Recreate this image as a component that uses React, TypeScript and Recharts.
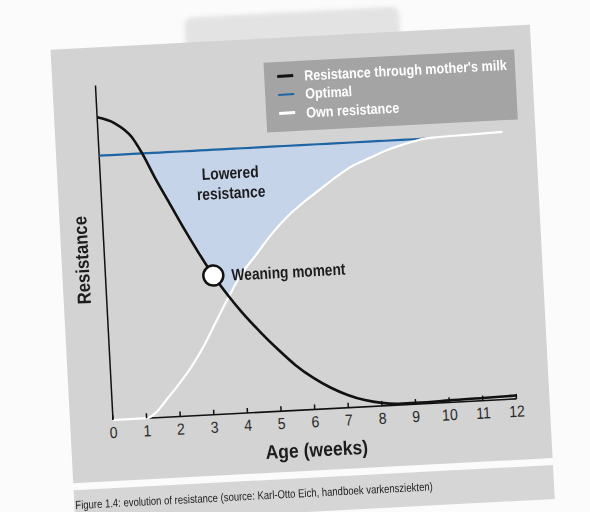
import { Area, ComposedChart, Line, ReferenceDot, ReferenceLine, XAxis, YAxis } from "recharts";

// values (resistance on a 0-100 scale)
const weeks = [0, 0.5, 1, 1.28, 1.6, 2, 2.4, 2.8, 3.2, 3.63, 4, 4.5, 5, 5.5, 6, 6.5, 7, 7.5, 8, 8.5, 9, 9.7, 10, 11, 12];
const mothersMilk = [90.5, 88.5, 84, 79, 72, 64, 56, 48.5, 41.5, 35, 30, 24, 18.5, 13.5, 9.5, 6.3, 3.8, 2, 0.9, 0.4, 0.4, 0.5, 0.6, 0.8, 1];
const ownResistance = [0, 0, 0, 1.5, 5, 9.5, 14.5, 20.5, 27.5, 35, 41, 47, 53, 58, 62, 65.5, 69, 72, 74, 76, 77.5, 79, 79.2, 79.5, 79.8];
const optimal = [79, 79, 79, 79, 79, 79, 79, 79, 79, 79, 79, 79, 79, 79, 79, 79, 79, 79, 79, 79, 79, 79, null, null, null];
const weekTicks = [0, 1, 2, 3, 4, 5, 6, 7, 8, 9, 10, 11, 12];
const weaningWeek = 3.2;
const weaningLevel = 41.5;
const gapStart = 1.28;
const gapEnd = 9.7;

const legendItems = [
  { label: "Resistance through mother's milk", color: "#111111" },
  { label: "Optimal", color: "#1f64a3" },
  { label: "Own resistance", color: "#ffffff" },
];

const data = weeks.map((week, i) => ({
  week,
  milk: mothersMilk[i],
  own: ownResistance[i],
  optimal: optimal[i],
  band:
    week >= gapStart && week <= gapEnd
      ? [Math.max(mothersMilk[i], ownResistance[i]), 79]
      : null,
}));

const font = '"Liberation Sans", Arial, Helvetica, sans-serif';

// the figure uses a condensed grotesque, so squeeze Arial-metric text a bit
function Squeeze({ k, origin = "left", children }: { k: number; origin?: string; children: React.ReactNode }) {
  return (
    <span style={{ display: "inline-block", transform: `scaleX(${k})`, transformOrigin: origin, whiteSpace: "nowrap" }}>
      {children}
    </span>
  );
}

function WeekTick({ x, y, payload }: { x?: number; y?: number; payload?: { value: number } }) {
  if (x == null || y == null || !payload) return null;
  return (
    <g>
      <line x1={x} x2={x} y1={y} y2={y - 5} stroke="#111" strokeWidth={1.5} />
      <text
        x={x}
        y={y + 18}
        textAnchor="middle"
        fontSize={16}
        fill="#2a2a2a"
        fontFamily={font}
        transform={`translate(${x} 0) scale(0.88 1) translate(${-x} 0)`}
      >
        {payload.value}
      </text>
    </g>
  );
}

export default function App() {
  return (
    <div
      style={{
        position: "fixed",
        left: 0,
        top: 0,
        width: 590,
        height: 512,
        overflow: "hidden",
        background: "#fbfbfb",
        fontFamily: font,
      }}
    >
      <div
        style={{
          position: "absolute",
          left: 0,
          top: 0,
          width: 590,
          height: 512,
          transform: "rotate(-3deg)",
          transformOrigin: "113px 420px",
        }}
      >
        {/* faint sheet showing through above the panel */}
        <div
          style={{
            position: "absolute",
            left: 205,
            top: 22,
            width: 215,
            height: 40,
            background: "#e3e3e3",
            borderRadius: 8,
            filter: "blur(2px)",
          }}
        />
        <div style={{ position: "absolute", left: 70, top: 47, width: 480, height: 434, background: "#d3d3d3" }} />
        <div style={{ position: "absolute", left: 70, top: 488, width: 480, height: 34, background: "#d6d6d6" }} />
        <div
          style={{
            position: "absolute",
            left: 71,
            top: 496,
            fontSize: 11.6,
            lineHeight: "14px",
            color: "#222",
          }}
        >
          <Squeeze k={0.82}>Figure 1.4: evolution of resistance (source: Karl-Otto Eich, handboek varkensziekten)</Squeeze>
        </div>

        <div style={{ position: "absolute", left: 0, top: 0 }}>
          <ComposedChart
            width={590}
            height={512}
            data={data}
            margin={{ top: 85, right: 73, bottom: 62, left: 113 }}
          >
            <XAxis
              dataKey="week"
              type="number"
              domain={[0, 12]}
              ticks={weekTicks}
              interval={0}
              height={30}
              tickSize={0}
              tickMargin={0}
              tickLine={false}
              axisLine={false}
              tick={<WeekTick />}
            />
            <YAxis type="number" domain={[0, 100]} hide />
            <ReferenceLine x={0} stroke="#111" strokeWidth={1.5} />
            <ReferenceLine
              segment={[
                { x: 1, y: 0 },
                { x: 12, y: 0 },
              ]}
              stroke="#111"
              strokeWidth={1.6}
            />
            <Area
              dataKey="band"
              type="monotone"
              fill="#c6d4ea"
              fillOpacity={1}
              stroke="none"
              isAnimationActive={false}
              activeDot={false}
            />
            <Line
              dataKey="optimal"
              type="monotone"
              stroke="#1f64a3"
              strokeWidth={2.2}
              dot={false}
              activeDot={false}
              isAnimationActive={false}
            />
            <Line
              dataKey="own"
              type="monotone"
              stroke="#ffffff"
              strokeWidth={2.2}
              dot={false}
              activeDot={false}
              isAnimationActive={false}
            />
            <Line
              dataKey="milk"
              type="monotone"
              stroke="#111111"
              strokeWidth={2.6}
              dot={false}
              activeDot={false}
              isAnimationActive={false}
            />
            <ReferenceDot
              x={weaningWeek}
              y={weaningLevel}
              r={10}
              fill="#ffffff"
              stroke="#111"
              strokeWidth={2.5}
            />
          </ComposedChart>
        </div>

        <div
          style={{
            position: "absolute",
            left: 282,
            top: 71,
            width: 251,
            height: 70,
            background: "#a4a4a4",
          }}
        >
          {legendItems.map((item, i) => (
            <div
              key={item.label}
              style={{
                position: "absolute",
                left: 13,
                top: 5 + i * 18.5,
                height: 19,
                display: "flex",
                alignItems: "center",
                whiteSpace: "nowrap",
              }}
            >
              <span style={{ width: 16, height: 2.5, background: item.color, marginRight: 11 }} />
              <span style={{ color: "#fff", fontWeight: 700, fontSize: 14.5 }}>
                <Squeeze k={0.87}>{item.label}</Squeeze>
              </span>
            </div>
          ))}
        </div>

        <div
          style={{
            position: "absolute",
            left: 183,
            top: 169,
            width: 120,
            textAlign: "center",
            fontSize: 16.5,
            lineHeight: "20px",
            fontWeight: 700,
            color: "#1c1c1c",
          }}
        >
          <Squeeze k={0.84} origin="center">Lowered</Squeeze>
          <br />
          <Squeeze k={0.84} origin="center">resistance</Squeeze>
        </div>
        <div
          style={{
            position: "absolute",
            left: 239,
            top: 271,
            fontSize: 16.5,
            lineHeight: "20px",
            fontWeight: 700,
            color: "#1c1c1c",
          }}
        >
          <Squeeze k={0.83}>Weaning moment</Squeeze>
        </div>
        <div
          style={{
            position: "absolute",
            left: 41,
            top: 248,
            width: 100,
            textAlign: "center",
            fontSize: 19,
            lineHeight: "22px",
            fontWeight: 700,
            color: "#1c1c1c",
            transform: "rotate(-90deg)",
          }}
        >
          <Squeeze k={0.88} origin="center">Resistance</Squeeze>
        </div>
        <div
          style={{
            position: "absolute",
            left: 245,
            top: 449,
            width: 140,
            textAlign: "center",
            fontSize: 19.5,
            lineHeight: "23px",
            fontWeight: 700,
            color: "#1c1c1c",
          }}
        >
          <Squeeze k={0.9} origin="center">Age (weeks)</Squeeze>
        </div>
      </div>
    </div>
  );
}
